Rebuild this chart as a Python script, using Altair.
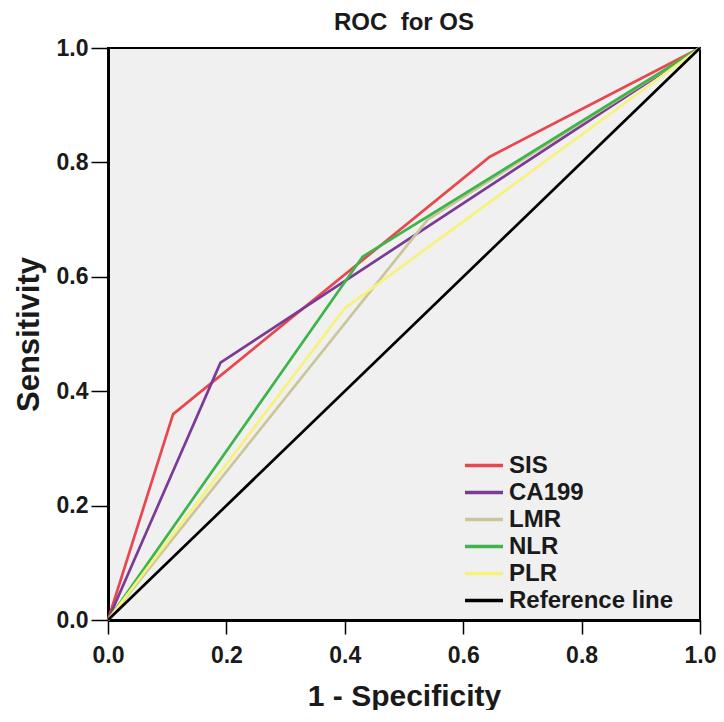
import altair as alt
import pandas as pd

series_names = ["SIS", "CA199", "LMR", "NLR", "PLR", "Reference line"]
sis_x = [0.0, 0.11, 0.645, 1.0]
sis_y = [0.0, 0.36, 0.81, 1.0]
ca199_x = [0.0, 0.19, 1.0]
ca199_y = [0.0, 0.45, 1.0]
lmr_x = [0.0, 0.54, 1.0]
lmr_y = [0.0, 0.70, 1.0]
nlr_x = [0.0, 0.43, 1.0]
nlr_y = [0.0, 0.635, 1.0]
plr_x = [0.0, 0.40, 1.0]
plr_y = [0.0, 0.545, 1.0]
ref_x = [0.0, 1.0]
ref_y = [0.0, 1.0]
colors = ["#e8474f", "#7b3a96", "#cbc59c", "#3db54a", "#f7f27a", "#000000"]
tick_values = [0.0, 0.2, 0.4, 0.6, 0.8, 1.0]

rows = []
for name, xs, ys in zip(series_names,
                        [sis_x, ca199_x, lmr_x, nlr_x, plr_x, ref_x],
                        [sis_y, ca199_y, lmr_y, nlr_y, plr_y, ref_y]):
    for i, (x, y) in enumerate(zip(xs, ys)):
        rows.append({"series": name, "fpr": x, "tpr": y, "i": i})
df = pd.DataFrame(rows)

font = "Liberation Sans"


def make_axis(tick_size, title_size, title_pad, label_pad):
    return alt.Axis(values=tick_values, format=".1f", grid=False,
                    tickSize=tick_size, tickColor="#000", tickWidth=1.5,
                    domainColor="#000", domainWidth=3, labelFlush=False,
                    labelFont=font, labelFontSize=23, labelFontWeight="bold",
                    labelColor="#1a1a1a", labelPadding=label_pad,
                    titleFont=font, titleFontSize=title_size, titleFontWeight="bold",
                    titleColor="#1a1a1a", titlePadding=title_pad)


chart = alt.Chart(df).mark_line(strokeWidth=2.7).encode(
    x=alt.X("fpr:Q", title="1 - Specificity",
            scale=alt.Scale(domain=[0, 1], nice=False),
            axis=make_axis(14, 30, 14, 10)),
    y=alt.Y("tpr:Q", title="Sensitivity",
            scale=alt.Scale(domain=[0, 1], nice=False),
            axis=make_axis(17, 31, 11, 3)),
    color=alt.Color("series:N",
                    scale=alt.Scale(domain=series_names, range=colors),
                    sort=series_names,
                    legend=alt.Legend(title=None, orient="none", legendX=355, legendY=404,
                                      symbolType="stroke", symbolSize=1444,
                                      symbolStrokeWidth=3.5, clipHeight=27,
                                      labelFont=font, labelFontSize=24, labelLimit=400,
                                      labelFontWeight="bold", labelColor="#1a1a1a",
                                      rowPadding=0, labelOffset=4)),
    order=alt.Order("i:Q"),
).properties(
    width=592, height=572,
    title=alt.TitleParams("ROC\u00a0 for OS", font=font, fontSize=24, fontWeight="bold",
                          color="#1a1a1a", anchor="middle", offset=2),
    autosize=alt.AutoSizeParams(type="none"),
    padding={"left": 100, "top": 40, "right": 16, "bottom": 90},
).configure_view(
    fill="#f0f0f0", stroke="#000", strokeWidth=2
)

chart.save("out.html", embed_options={"renderer": "svg", "actions": False})
